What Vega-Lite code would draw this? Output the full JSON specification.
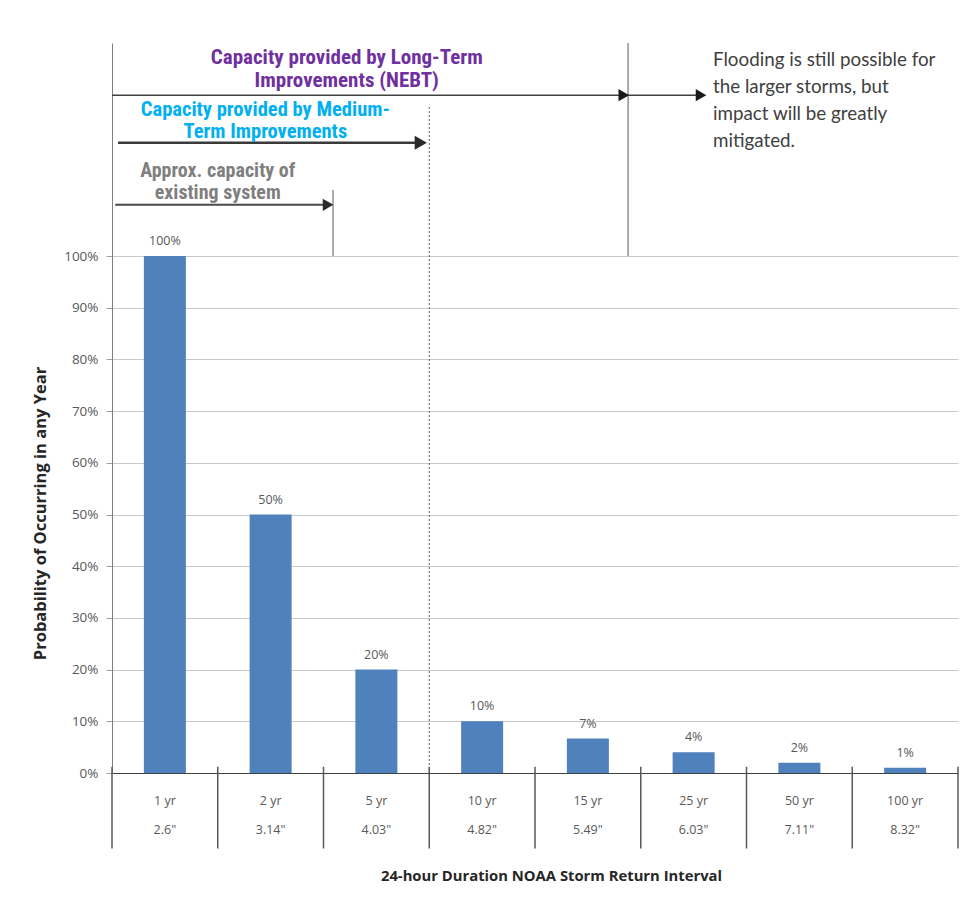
{
  "$schema": "https://vega.github.io/schema/vega-lite/v6.json",
  "width": 846,
  "height": 730,
  "autosize": {"type": "none"},
  "padding": {"left": 112, "top": 43, "right": 17, "bottom": 127},
  "background": "white",
  "config": {"view": {"stroke": null}, "font": "Open Sans"},
  "datasets": {
    "storms": [
      {"period": "1 yr", "depth": "2.6\"", "probability": 1.0},
      {"period": "2 yr", "depth": "3.14\"", "probability": 0.5},
      {"period": "5 yr", "depth": "4.03\"", "probability": 0.2},
      {"period": "10 yr", "depth": "4.82\"", "probability": 0.1},
      {"period": "15 yr", "depth": "5.49\"", "probability": 0.0667},
      {"period": "25 yr", "depth": "6.03\"", "probability": 0.04},
      {"period": "50 yr", "depth": "7.11\"", "probability": 0.02},
      {"period": "100 yr", "depth": "8.32\"", "probability": 0.01}
    ]
  },
  "layer": [
    {
      "data": {"name": "storms"},
      "layer": [
        {
          "mark": {"type": "bar", "color": "#4F81BD", "width": 42},
          "encoding": {
            "x": {
              "field": "period", "type": "nominal", "sort": null,
              "scale": {"paddingInner": 0, "paddingOuter": 0},
              "axis": {
                "ticks": false, "tickSize": 0, "grid": false,
                "domainColor": "#404040", "domainWidth": 1.2,
                "labelAngle": 0, "labelPadding": 27, "labelBaseline": "middle",
                "labelFont": "Open Sans", "labelFontSize": 12.5, "labelColor": "#595959",
                "title": "24-hour Duration NOAA Storm Return Interval",
                "titleFont": "Open Sans", "titleFontSize": 14.8, "titleFontWeight": "bold", "titleColor": "#262626",
                "titleX": 439, "titleY": 103, "titleBaseline": "middle", "titleAlign": "center"
              }
            },
            "y": {
              "field": "probability", "type": "quantitative",
              "scale": {"domain": [0, 1.412], "nice": false, "zero": true},
              "axis": {
                "values": [0, 0.1, 0.2, 0.3, 0.4, 0.5, 0.6, 0.7, 0.8, 0.9, 1.0],
                "format": ".0%", "grid": true, "gridColor": "#c8c8c8",
                "domainColor": "#808080", "tickColor": "#a0a0a0", "tickSize": 6,
                "labelPadding": 8, "labelFont": "Open Sans", "labelFontSize": 13.5, "labelColor": "#595959",
                "title": "Probability of Occurring in any Year",
                "titleFont": "Open Sans", "titleFontSize": 16.5, "titleFontWeight": "bold", "titleColor": "#262626",
                "titleX": -72, "titleY": 470, "titleAngle": -90,
                "titleAlign": "center", "titleBaseline": "middle"
              }
            }
          }
        },
        {
          "mark": {"type": "text", "baseline": "bottom", "dy": -8, "fontSize": 12.5, "color": "#595959"},
          "encoding": {
            "x": {"field": "period", "type": "nominal", "sort": null},
            "y": {"field": "probability", "type": "quantitative"},
            "text": {"field": "probability", "format": ".0%"}
          }
        },
        {
          "mark": {"type": "text", "baseline": "middle", "fontSize": 12.5, "color": "#595959"},
          "encoding": {
            "x": {"field": "period", "type": "nominal", "sort": null},
            "y": {"datum": -0.110},
            "text": {"field": "depth"}
          }
        },
        {
          "mark": {"type": "rule", "color": "#595959", "strokeWidth": 1.5},
          "encoding": {
            "x": {"field": "period", "type": "nominal", "sort": null, "bandPosition": 0},
            "y": {"datum": 0.012},
            "y2": {"datum": -0.146}
          }
        },
        {
          "transform": [{"filter": "datum.period === '100 yr'"}],
          "mark": {"type": "rule", "color": "#595959", "strokeWidth": 1.5},
          "encoding": {
            "x": {"field": "period", "type": "nominal", "sort": null, "bandPosition": 1},
            "y": {"datum": 0.012},
            "y2": {"datum": -0.146}
          }
        }
      ]
    },
    {
      "data": {"values": [{}]},
      "layer": [
        {
          "mark": {"type": "rule", "color": "#595959", "strokeWidth": 1},
          "encoding": {
            "x": {"datum": 4.88, "type": "quantitative", "scale": {"domain": [0, 8], "nice": false, "zero": false}, "axis": null},
            "y": {"datum": 1.0},
            "y2": {"datum": 1.412}
          }
        },
        {
          "mark": {"type": "rule", "color": "#595959", "strokeWidth": 1},
          "encoding": {"x": {"datum": 2.09, "type": "quantitative"}, "y": {"datum": 1.0}, "y2": {"datum": 1.128}}
        },
        {
          "mark": {"type": "rule", "color": "#595959", "strokeWidth": 1, "strokeDash": [2, 2]},
          "encoding": {"x": {"datum": 3.0, "type": "quantitative"}, "y": {"datum": 0}, "y2": {"datum": 1.288}}
        },
        {
          "mark": {"type": "rule", "color": "#404040", "strokeWidth": 1.5},
          "encoding": {"x": {"datum": 0, "type": "quantitative"}, "x2": {"datum": 4.88}, "y": {"datum": 1.311}}
        },
        {
          "mark": {"type": "rule", "color": "#404040", "strokeWidth": 1.5},
          "encoding": {"x": {"datum": 4.88, "type": "quantitative"}, "x2": {"datum": 5.57}, "y": {"datum": 1.311}}
        },
        {
          "mark": {"type": "rule", "color": "#3a3a3a", "strokeWidth": 2.5},
          "encoding": {"x": {"datum": 0.057, "type": "quantitative"}, "x2": {"datum": 2.92}, "y": {"datum": 1.219}}
        },
        {
          "mark": {"type": "rule", "color": "#4a4a4a", "strokeWidth": 2},
          "encoding": {"x": {"datum": 0.03, "type": "quantitative"}, "x2": {"datum": 2.04}, "y": {"datum": 1.099}}
        },
        {
          "mark": {"type": "point", "shape": "triangle-right", "filled": true, "color": "#1a1a1a", "opacity": 1, "size": 150},
          "encoding": {"x": {"datum": 4.84, "type": "quantitative"}, "y": {"datum": 1.311}}
        },
        {
          "mark": {"type": "point", "shape": "triangle-right", "filled": true, "color": "#1a1a1a", "opacity": 1, "size": 150},
          "encoding": {"x": {"datum": 5.57, "type": "quantitative"}, "y": {"datum": 1.311}}
        },
        {
          "mark": {"type": "point", "shape": "triangle-right", "filled": true, "color": "#2a2a2a", "opacity": 1, "size": 200},
          "encoding": {"x": {"datum": 2.92, "type": "quantitative"}, "y": {"datum": 1.219}}
        },
        {
          "mark": {"type": "point", "shape": "triangle-right", "filled": true, "color": "#2a2a2a", "opacity": 1, "size": 150},
          "encoding": {"x": {"datum": 2.043, "type": "quantitative"}, "y": {"datum": 1.099}}
        },
        {
          "mark": {
            "type": "text", "text": ["Capacity provided by Long-Term", "Improvements (NEBT)"],
            "font": "Liberation Sans Narrow, Roboto Condensed, DejaVu Sans Condensed, sans-serif",
            "fontSize": 21, "fontWeight": "bold", "color": "#7030A0",
            "lineHeight": 23, "align": "center", "baseline": "middle"
          },
          "encoding": {"x": {"datum": 2.22, "type": "quantitative"}, "y": {"datum": 1.383}}
        },
        {
          "mark": {
            "type": "text", "text": ["Capacity provided by Medium-", "Term Improvements"],
            "font": "Liberation Sans Narrow, Roboto Condensed, DejaVu Sans Condensed, sans-serif",
            "fontSize": 20.5, "fontWeight": "bold", "color": "#00B0F0",
            "lineHeight": 22, "align": "center", "baseline": "middle"
          },
          "encoding": {"x": {"datum": 1.45, "type": "quantitative"}, "y": {"datum": 1.282}}
        },
        {
          "mark": {
            "type": "text", "text": ["Approx.  capacity of", "existing system"],
            "font": "Liberation Sans Narrow, Roboto Condensed, DejaVu Sans Condensed, sans-serif",
            "fontSize": 20, "fontWeight": "bold", "color": "#7F7F7F",
            "lineHeight": 22, "align": "center", "baseline": "middle"
          },
          "encoding": {"x": {"datum": 1.0, "type": "quantitative"}, "y": {"datum": 1.164}}
        },
        {
          "mark": {
            "type": "text",
            "text": ["Flooding is still possible for", "the larger storms, but", "impact will be greatly", "mitigated."],
            "font": "Lato", "fontSize": 18.8, "color": "#404040",
            "lineHeight": 27, "align": "left", "baseline": "middle"
          },
          "encoding": {"x": {"datum": 5.683, "type": "quantitative"}, "y": {"datum": 1.379}}
        }
      ]
    }
  ],
  "resolve": {"scale": {"x": "independent"}}
}
